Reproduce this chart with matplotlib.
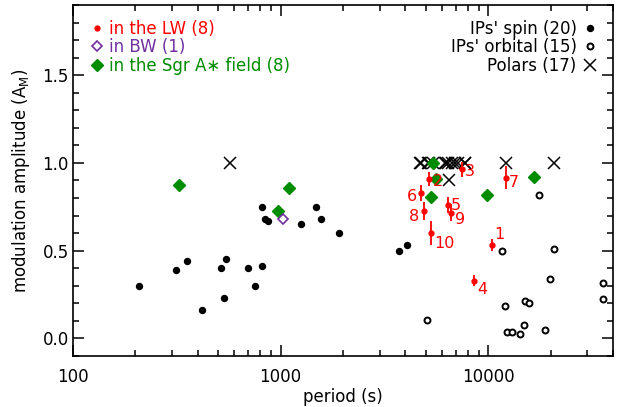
import matplotlib
matplotlib.use("Agg")
import matplotlib.pyplot as plt
from matplotlib.ticker import LogLocator, MultipleLocator, FormatStrFormatter, NullFormatter, FixedLocator

plt.rcParams['font.family'] = ['DejaVu Sans']
plt.rcParams['font.size'] = 12

# IPs' spin periods (s) and modulation amplitudes
spin_p = [208, 315, 353, 417, 517, 548, 532, 697, 751, 815, 812, 839, 867,
          1259, 1479, 1564, 1920, 3725, 4055]
spin_a = [0.30, 0.39, 0.44, 0.16, 0.40, 0.45, 0.23, 0.40, 0.30, 0.41, 0.75,
          0.68, 0.67, 0.65, 0.75, 0.68, 0.60, 0.50, 0.53]

# IPs' orbital periods
orb_p = [17540, 11670, 20740, 19800, 35700, 35700, 12100, 15130, 15770,
         14860, 18840, 12300, 13000, 14320, 5100]
orb_a = [0.82, 0.497, 0.508, 0.339, 0.314, 0.227, 0.185, 0.212, 0.204,
         0.075, 0.047, 0.039, 0.037, 0.026, 0.105]

# Polars
pol_p = [573, 4700, 4760, 5150, 5180, 5450, 6210, 6300, 6440, 6680, 6900,
         7190, 7740, 7760, 12200, 20800, 6500]
pol_a = [1.0, 1.0, 1.0, 1.0, 1.0, 1.0, 1.0, 1.0, 1.0, 1.0, 1.0,
         1.0, 1.0, 1.0, 1.0, 1.0, 0.9]

# sources in the Limiting Window (numbered)
lw_id = ['1', '2', '3', '4', '5', '6', '7', '8', '9', '10']
lw_p = [10420, 5180, 7500, 8600, 6400, 4750, 12200, 4920, 6640, 5300]
lw_a = [0.532, 0.907, 0.963, 0.33, 0.762, 0.827, 0.916, 0.724, 0.716, 0.60]
lw_err = [0.034, 0.041, 0.043, 0.033, 0.046, 0.046, 0.065, 0.051, 0.048, 0.068]
# label offsets in pixels (dx, dy)
lw_off = [(8, 11), (9, -2), (8, -2), (8, -9), (8, -1), (-9, -3), (8, -5),
          (-10, -5), (9, -7), (14, -10)]

# Baade's Window
bw_p = [1031]
bw_a = [0.68]

# Sgr A* field
sgr_p = [323, 1099, 975, 5445, 5600, 5310, 9930, 16700]
sgr_a = [0.876, 0.855, 0.724, 1.0, 0.906, 0.808, 0.82, 0.918]

fig = plt.figure(figsize=(6.33, 4.07), dpi=100)
ax = fig.add_axes([73/633, 1-356/407, 540/633, 351/407])

green = '#008c00'
purple = '#7030a0'

ax.plot(spin_p, spin_a, 'o', color='black', ms=4.3, label="IPs' spin (20)")
ax.plot(orb_p, orb_a, 'o', mfc='white', mec='black', mew=1.4, ms=4.3,
        label="IPs' orbital (15)")
ax.plot(pol_p, pol_a, 'x', color='black', ms=8, mew=1.1, label='Polars (17)')
ax.plot(sgr_p, sgr_a, 'D', color=green, ms=6, label='in the Sgr A\u2217 field (8)')
ax.plot(bw_p, bw_a, 'D', mfc='white', mec=purple, mew=1.2, ms=5.5,
        label='in BW (1)')
ax.errorbar(lw_p, lw_a, yerr=lw_err, fmt='none', ecolor='red',
            elinewidth=1.3, capsize=0)
ax.plot(lw_p, lw_a, 'o', color='red', ms=3.5, label='in the LW (8)')
for i in range(len(lw_id)):
    ax.annotate(lw_id[i], (lw_p[i], lw_a[i]), xytext=lw_off[i],
                textcoords='offset pixels', color='red', fontsize=11.5,
                ha='center', va='center', zorder=5)

ax.set_xscale('log')
ax.set_xlim(100, 40000)
ax.set_ylim(-0.1, 1.9)
ax.xaxis.set_major_locator(FixedLocator([100, 1000, 10000]))
ax.xaxis.set_major_formatter(FormatStrFormatter('%d'))
ax.xaxis.set_minor_locator(LogLocator(base=10, subs=range(2, 10)))
ax.xaxis.set_minor_formatter(NullFormatter())
ax.yaxis.set_major_locator(MultipleLocator(0.5))
ax.yaxis.set_minor_locator(MultipleLocator(0.1))
ax.yaxis.set_major_formatter(FormatStrFormatter('%.1f'))

ax.tick_params(which='both', direction='in', top=True, right=True, width=1.1)
ax.tick_params(which='major', length=8)
ax.tick_params(which='minor', length=4)
ax.tick_params(axis='x', which='both', pad=8.5)
ax.tick_params(axis='y', which='both', pad=3)
for s in ax.spines.values():
    s.set_linewidth(1.2)

ax.set_xlabel('period (s)')
ax.set_ylabel(r'modulation amplitude (A$_{\rm M}$)')
ax.xaxis.set_label_coords(0.5, -0.09)
ax.yaxis.set_label_coords(-0.075, 0.5)

h, l = ax.get_legend_handles_labels()
leg1 = ax.legend([h[5], h[4], h[3]], [l[5], l[4], l[3]], loc='upper left',
                 bbox_to_anchor=(0.02, 0.982), frameon=False, handlelength=0.6,
                 handletextpad=0.4, labelspacing=0.03, borderpad=0,
                 labelcolor=['red', purple, green])
ax.add_artist(leg1)
ax.legend(h[:3], l[:3], loc='upper right', bbox_to_anchor=(0.982, 0.982),
          frameon=False, markerfirst=False, handlelength=0.6,
          handletextpad=0.5, labelspacing=0.03, borderpad=0)

fig.savefig('out.png', dpi=100)
